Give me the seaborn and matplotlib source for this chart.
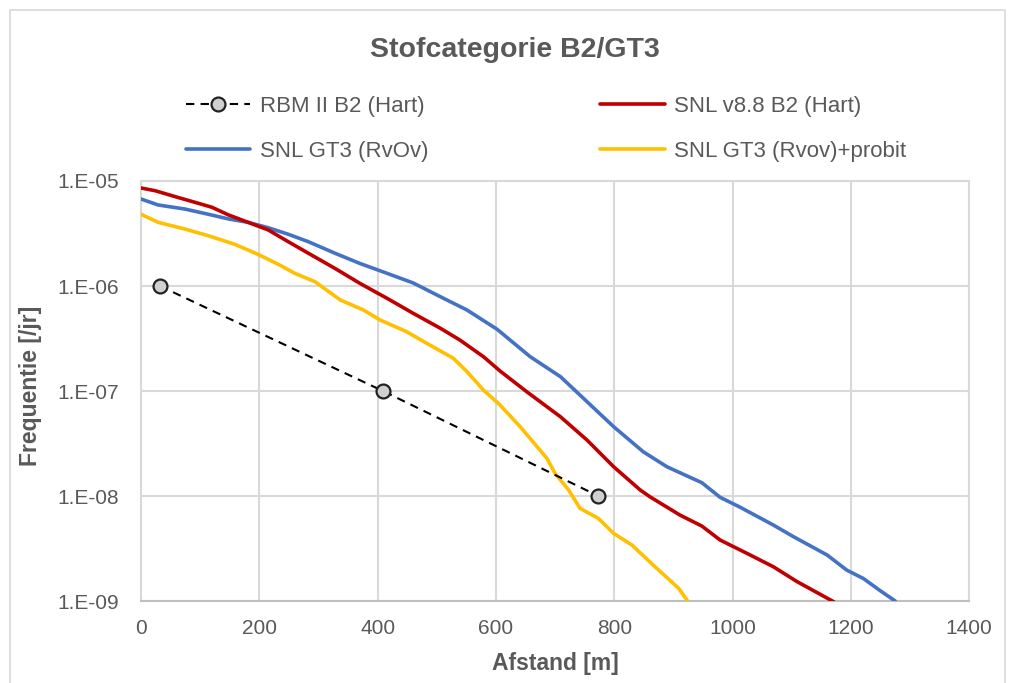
import numpy as np
import pandas as pd
import matplotlib
matplotlib.use("Agg")
import matplotlib.pyplot as plt
import matplotlib.ticker as mticker
from matplotlib.patches import Rectangle
import seaborn as sns

# ----- DATA -----
rbm_x = [32, 409, 773]
rbm_y = [1e-6, 1e-7, 1e-8]

snl88_x = [0, 24, 58, 91, 120, 148, 181, 215, 249, 283, 328, 370, 416, 460, 506, 539,
           579, 607, 652, 709, 754, 799, 844, 861, 911, 948, 979, 1024, 1069, 1109, 1171]
snl88_y = [8.58e-6, 8.08e-6, 7.09e-6, 6.27e-6, 5.62e-6, 4.75e-6, 4.04e-6, 3.42e-6, 2.64e-6,
           2.05e-6, 1.47e-6, 1.06e-6, 7.63e-7, 5.50e-7, 3.96e-7, 3.06e-7, 2.12e-7, 1.55e-7,
           9.85e-8, 5.69e-8, 3.41e-8, 1.90e-8, 1.14e-8, 9.78e-9, 6.59e-9, 5.18e-9, 3.81e-9,
           2.85e-9, 2.12e-9, 1.53e-9, 9.85e-10]

gt3_x = [0, 29, 74, 114, 148, 181, 215, 249, 283, 328, 370, 416, 460, 506, 551, 602, 658,
         709, 742, 799, 849, 889, 948, 979, 1013, 1069, 1103, 1160, 1193, 1221, 1250, 1275]
gt3_y = [6.74e-6, 5.91e-6, 5.41e-6, 4.82e-6, 4.35e-6, 4.04e-6, 3.59e-6, 3.11e-6, 2.64e-6,
         2.05e-6, 1.64e-6, 1.32e-6, 1.07e-6, 7.91e-7, 5.91e-7, 3.87e-7, 2.12e-7, 1.37e-7,
         9.16e-8, 4.57e-8, 2.64e-8, 1.90e-8, 1.34e-8, 9.72e-9, 7.81e-9, 5.29e-9, 4.10e-9,
         2.74e-9, 1.97e-9, 1.64e-9, 1.25e-9, 1.0e-9]

probit_x = [0, 29, 74, 114, 159, 198, 232, 260, 294, 337, 376, 404, 449, 483, 528, 551, 579,
            607, 641, 686, 700, 723, 742, 773, 799, 830, 869, 909, 923]
probit_y = [4.82e-6, 4.04e-6, 3.49e-6, 3.01e-6, 2.49e-6, 2.00e-6, 1.61e-6, 1.32e-6, 1.10e-6,
            7.36e-7, 5.91e-7, 4.75e-7, 3.67e-7, 2.85e-7, 2.05e-7, 1.53e-7, 1.02e-7, 7.36e-8,
            4.57e-8, 2.29e-8, 1.64e-8, 1.14e-8, 7.64e-9, 6.13e-9, 4.41e-9, 3.41e-9, 2.12e-9,
            1.32e-9, 1.02e-9]

x_ticks = [0, 200, 400, 600, 800, 1000, 1200, 1400]
y_ticks = [1e-9, 1e-8, 1e-7, 1e-6, 1e-5]

TEXT = "#595959"
GRID = "#D9D9D9"

sns.set_style("white")
plt.rcParams["font.family"] = ["Liberation Sans", "DejaVu Sans"]

fig = plt.figure(figsize=(10.1, 6.83), dpi=100)
ax = fig.add_axes([0.1396, 0.12, 0.82, 0.615])

sns.lineplot(x=rbm_x, y=rbm_y, ax=ax, color="black", linestyle=(0, (4, 3)), linewidth=1.5,
             marker="o", markersize=10, markerfacecolor="#D0D0D0", markeredgecolor="#222222",
             markeredgewidth=1.6, label="RBM II B2 (Hart)", zorder=5)
sns.lineplot(x=gt3_x, y=gt3_y, ax=ax, color="#4472C4", linewidth=2.6,
             label="SNL GT3 (RvOv)", zorder=4)
sns.lineplot(x=snl88_x, y=snl88_y, ax=ax, color="#C00000", linewidth=2.6,
             label="SNL v8.8 B2 (Hart)", zorder=4)
sns.lineplot(x=probit_x, y=probit_y, ax=ax, color="#FFC000", linewidth=2.6,
             label="SNL GT3 (Rvov)+probit", zorder=4)

ax.set_yscale("log")
ax.set_xlim(0, 1400)
ax.set_ylim(1e-9, 1e-5)
ax.xaxis.set_major_locator(mticker.FixedLocator(x_ticks))
ax.yaxis.set_major_locator(mticker.FixedLocator(y_ticks))
ax.yaxis.set_minor_locator(mticker.NullLocator())
ax.yaxis.set_major_formatter(mticker.FuncFormatter(
    lambda v, p: "1.E-%02d" % int(round(-np.log10(v)))))
ax.tick_params(axis="both", length=0, labelsize=15, labelcolor=TEXT)
ax.tick_params(axis="x", pad=13)
ax.tick_params(axis="y", pad=16)
ax.grid(True, which="major", color=GRID, linewidth=1.5)
for s in ax.spines.values():
    s.set_color(GRID)
    s.set_linewidth(1.5)
ax.spines["bottom"].set_color("#BFBFBF")

ax.set_xlabel("Afstand [m]", fontsize=16.5, fontweight="bold", color=TEXT)
ax.set_ylabel("Frequentie [/jr]", fontsize=16.5, fontweight="bold", color=TEXT)
ax.xaxis.set_label_coords(555 / 1010, 1 - 652 / 683, transform=fig.transFigure)
ax.yaxis.set_label_coords(42 / 1010, 1 - 386 / 683, transform=fig.transFigure)

fig.text(515 / 1010, 1 - 50 / 683, "Stofcategorie B2/GT3", ha="center", va="center",
         fontsize=20.5, fontweight="bold", color=TEXT)

leg = ax.legend(ncol=2, loc="center left", bbox_to_anchor=(166 / 1010, 1 - 129 / 683),
                bbox_transform=fig.transFigure, frameon=False, fontsize=16,
                handlelength=2.9, handletextpad=0.45, columnspacing=7.7, labelspacing=1.1)
for t in leg.get_texts():
    t.set_color(TEXT)

# chart frame
fig.patches.append(Rectangle((10 / 1010, -0.02), 995 / 1010, 1.005, transform=fig.transFigure,
                             fill=False, edgecolor=GRID, linewidth=1.2))

fig.savefig("out.png", dpi=100)
